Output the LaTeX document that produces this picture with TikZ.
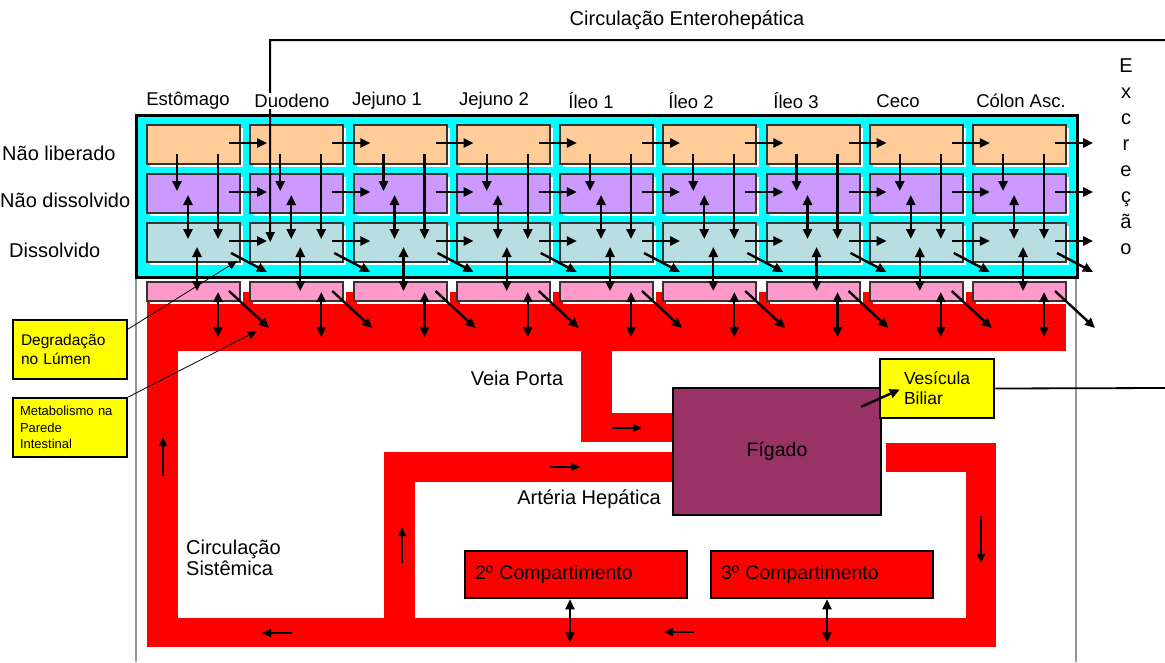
\documentclass[tikz,border=0pt]{standalone}
\usepackage{fontspec}
\setmainfont{Liberation Sans}
\usetikzlibrary{arrows.meta,calc,shadows}
\definecolor{pkorange}{RGB}{255,204,153}
\definecolor{pkviolet}{RGB}{204,153,255}
\definecolor{pkteal}{RGB}{185,222,226}
\definecolor{pkpink}{RGB}{255,153,204}
\definecolor{pkcyan}{RGB}{0,255,255}
\definecolor{pkred}{RGB}{255,0,0}
\definecolor{pkliver}{RGB}{153,51,102}
\definecolor{pkyellow}{RGB}{255,255,0}
\definecolor{pkframe}{RGB}{150,150,150}

\tikzset{
  cell/.style={draw=black!80,line width=2pt,inner sep=0pt,minimum width=93pt,minimum height=39pt,
    drop shadow={shadow xshift=3pt,shadow yshift=-3pt,fill=white,opacity=1}},
  wallcell/.style={cell,fill=pkpink,minimum height=19pt},
  flux/.style={line width=2.4pt,-{Triangle[length=10pt,width=9pt]}},
  fluxx/.style={line width=2.4pt,{Triangle[length=10pt,width=9pt]}-{Triangle[length=10pt,width=9pt]}},
  flow/.style={line width=2pt,-{Triangle[length=9pt,width=8pt]}},
  leader/.style={line width=0.8pt,-{Triangle[length=9pt,width=8pt]}},
  organ/.style={draw=black,line width=2.5pt,inner sep=0pt},
  note/.style={organ,fill=pkyellow,align=left},
  lbl/.style={font=\fontsize{20}{21}\selectfont,inner sep=1pt},
  seglbl/.style={font=\fontsize{18.5}{22}\selectfont,fill=white,inner sep=1pt},
}

\begin{document}
\begin{tikzpicture}[x=1pt,y=-1pt]
  \useasboundingbox (0,0) rectangle (1165,662);
  % frame below the lumen box
  \draw[pkframe,line width=1.5pt] (136,277) -- (136,662);
  \draw[pkframe,line width=1.5pt] (1076,277) -- (1076,662);
  % lumen box
  \draw[black,line width=3pt,fill=pkcyan] (136,115) rectangle (1077,277);
  % blood vessels
  \fill[pkred] (147,292) rectangle (1066,351);
  \fill[pkred] (147,351) rectangle (178,647);
  \fill[pkred] (147,618) rectangle (996,647);
  \fill[pkred] (966,443) rectangle (996,647);
  \fill[pkred] (886,443) rectangle (996,472);
  \fill[pkred] (581,351) rectangle (612,442);
  \fill[pkred] (581,413) rectangle (673,442);
  \fill[pkred] (384,452) rectangle (673,482);
  \fill[pkred] (384,452) rectangle (415,618);
  % segments: o = not released, p = not dissolved, t = dissolved, k = wall
  \foreach \c in {1,...,9}{
    \pgfmathsetmacro\xc{147+103.25*(\c-1)+46.5}
    \node[cell,fill=pkorange] (o\c) at (\xc,144.5) {};
    \node[cell,fill=pkviolet] (p\c) at (\xc,193.5) {};
    \node[cell,fill=pkteal]   (t\c) at (\xc,242.5) {};
    \node[wallcell]           (k\c) at (\xc,291.5) {};
  }
  \foreach \c in {1,...,9}{
    \draw[flux]  ($(o\c.north west)+(83,19)$) -- ($(o\c.north west)+(121,19)$);
    \draw[flux]  ($(p\c.north west)+(83,19)$) -- ($(p\c.north west)+(121,19)$);
    \draw[flux]  ($(t\c.north west)+(83,19)$) -- ($(t\c.north west)+(121,19)$);
    \draw[flux]  ($(o\c.north west)+(31,30)$) -- ($(p\c.north west)+(31,18)$);
    \draw[flux]  ($(o\c.north west)+(72,30)$) -- ($(t\c.north west)+(72,17)$);
    \draw[fluxx] ($(p\c.north west)+(42,22)$) -- ($(t\c.north west)+(42,17)$);
    \draw[fluxx] ($(t\c.north west)+(51,25)$) -- ($(k\c.north west)+(51,10)$);
    \draw[flux]  ($(t\c.north west)+(85,31)$) -- ($(t\c.north west)+(121,50)$);
    \draw[fluxx] ($(k\c.north west)+(72,11)$) -- ($(k\c.north west)+(72,56)$);
    \draw[flux]  ($(k\c.north west)+(83,10)$) -- ($(k\c.north west)+(123,47)$);
  }
  % organs and compartments
  \node[organ,fill=pkliver,minimum width=208pt,minimum height=127pt,font=\fontsize{19.5}{22}\selectfont]
    (liver) at (777,451.5) {Fígado};
  \node[note,minimum height=59pt,text width=66pt,inner xsep=24pt,font=\fontsize{17.5}{20}\selectfont]
    (bile) at (937,388.5) {Vesícula\\Biliar};
  \node[organ,fill=pkred,minimum height=47pt,text width=202pt,inner xsep=10pt,align=left,
    font=\fontsize{19.5}{22}\selectfont] (comp2) at (576,574.5) {2º Compartimento};
  \node[organ,fill=pkred,minimum height=47pt,text width=202pt,inner xsep=10pt,align=left,
    font=\fontsize{19.5}{22}\selectfont] (comp3) at (822,574.5) {3º Compartimento};
  \node[note,minimum height=59pt,text width=98pt,inner xsep=8pt,font=\fontsize{15.5}{19}\selectfont]
    (degr) at (70,349.5) {Degradação\\no Lúmen};
  \node[note,minimum height=59pt,text width=100pt,inner xsep=7pt,font=\fontsize{13}{16.5}\selectfont]
    (metab) at (70,427.5) {Metabolismo na\\Parede\\Intestinal};
  % exchange with compartments
  \draw[fluxx,line width=1.8pt] (comp2.south) ++(-6,0) coordinate (c2a) -- ++(0,43);
  \draw[fluxx,line width=1.8pt] (comp3.south) ++(5,0) coordinate (c3a) -- ++(0,43);
  % flow direction in the vessels
  \draw[flow] (163,476) -- (163,437);
  \draw[flow] (612,428) -- (642,428);
  \draw[flow] (550,467) -- (580,467);
  \draw[flow] (402,563) -- (402,527);
  \draw[flow] (981,516) -- (981,563);
  \draw[flow] (292,633) -- (262,633);
  \draw[flow] (694,632) -- (664,632);
  % bile
  \draw[flux] ($(liver.north east)+(-21,20)$) -- ($(bile.west)+(21,1)$);
  \draw[line width=1.8pt] (bile.east) -- (1165,388);
  % labels for the yellow boxes
  \draw[leader] (degr.east |- 0,329) -- ($(t1.north west)+(91,39)$);
  \draw[leader] (metab.east |- 0,397) -- ($(k1.north west)+(111,50)$);
  % enterohepatic return
  \coordinate (ehp) at (270,40);
  \draw[line width=2pt,-{Triangle[length=10pt,width=9pt]}] (1165,40) -- (ehp) -- ($(t2.north west)+(21,20)$);
  \node[lbl] (ehplbl) at (687,20) {Circulação Enterohepática};
  % segment names
  \foreach \n/\x/\name in {1/188/Estômago,2/292/Duodeno,3/387/Jejuno 1,4/494/Jejuno 2,
      5/591/Íleo 1,6/691/Íleo 2,7/796/Íleo 3,8/898/Ceco,9/1021/Cólon Asc.}
    \node[seglbl] (seg\n) at (\x,101) {\name};
  % state names
  \node[lbl,anchor=west] (relno)  at (1,153) {Não liberado};
  \node[lbl,anchor=west] (dissno) at (-1,200) {Não dissolvido};
  \node[lbl,anchor=west] (diss)   at (8,250) {Dissolvido};
  % excretion
  \foreach \l [count=\i from 0] in {E,x,c,r,e,ç,ã,o}
    \node[lbl,anchor=base] (exc\i) at (1126,72+26*\i) {\l};
  % vessel names
  \node[lbl] (portal) at (517,378) {Veia Porta};
  \node[lbl] (artery) at (589,499) {Artéria Hepática};
  \node[lbl,anchor=west,align=left] (sist) at (185,558) {Circulação\\Sistêmica};
\end{tikzpicture}
\end{document}
